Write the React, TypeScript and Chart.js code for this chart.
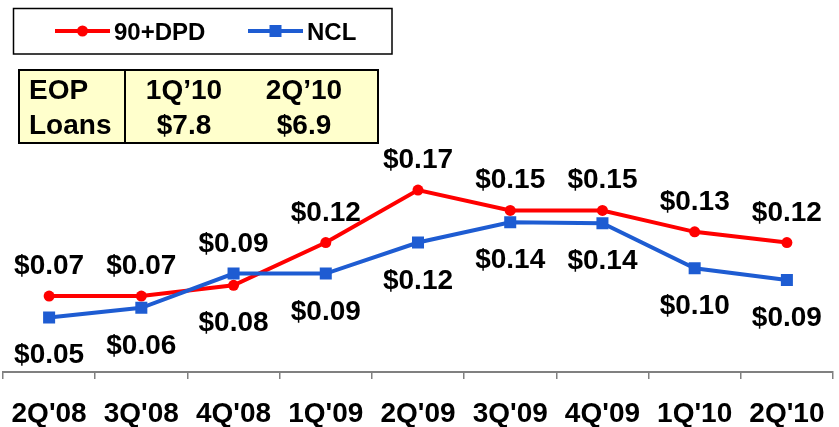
import React, { useEffect, useRef } from "react";
import { Chart, registerables } from "chart.js";

Chart.register(...registerables);

const categories = ["2Q'08", "3Q'08", "4Q'08", "1Q'09", "2Q'09", "3Q'09", "4Q'09", "1Q'10", "2Q'10"];
const dpdValues = [0.071, 0.071, 0.081, 0.121, 0.17, 0.151, 0.151, 0.131, 0.121];
const nclValues = [0.051, 0.06, 0.092, 0.092, 0.121, 0.14, 0.139, 0.097, 0.086];
const dpdLabelSide = ["above", "above", "below", "above", "above", "above", "above", "above", "above"];
const nclLabelSide = ["below", "below", "above", "below", "below", "below", "below", "below", "below"];
const seriesNames = ["90+DPD", "NCL"];
const tableHeader = ["EOP", "1Q\u201910", "2Q\u201910"];
const tableRow = ["Loans", "$7.8", "$6.9"];

const FONT = '"Liberation Sans", Arial, Helvetica, sans-serif';
const RED = "#FF0000";
const BLUE = "#1E5CD2";

const dataLabelPlugin = {
  id: "dataLabels",
  afterDatasetsDraw(chart: any) {
    const ctx = chart.ctx;
    ctx.save();
    ctx.font = `bold 28px ${FONT}`;
    ctx.fillStyle = "#000";
    ctx.textAlign = "center";
    ctx.textBaseline = "alphabetic";
    chart.data.datasets.forEach((ds: any, i: number) => {
      const meta = chart.getDatasetMeta(i);
      const sides: string[] = ds.labelSide;
      meta.data.forEach((pt: any, j: number) => {
        const v = ds.data[j] as number;
        const text = "$" + v.toFixed(2);
        const cy = pt.y + (sides[j] === "above" ? -32 : 36);
        ctx.fillText(text, pt.x, cy + 10);
      });
    });
    ctx.restore();
  },
};

const legendTablePlugin = {
  id: "legendTable",
  afterDraw(chart: any) {
    const ctx = chart.ctx;
    const dsets = chart.data.datasets;
    ctx.save();
    // Legend box
    ctx.strokeStyle = "#000";
    ctx.lineWidth = 1.5;
    ctx.strokeRect(13.5, 8.5, 378.5, 45.5);
    const ly = 31;
    const items = [
      { x0: 55, x1: 110, tx: 114, ds: dsets[0] },
      { x0: 248, x1: 303, tx: 307, ds: dsets[1] },
    ];
    items.forEach((it) => {
      ctx.strokeStyle = it.ds.borderColor;
      ctx.lineWidth = 4;
      ctx.beginPath();
      ctx.moveTo(it.x0, ly);
      ctx.lineTo(it.x1, ly);
      ctx.stroke();
      ctx.fillStyle = it.ds.borderColor;
      const cx = (it.x0 + it.x1) / 2;
      if (it.ds.pointStyle === "rect") {
        ctx.fillRect(cx - 6, ly - 6, 12, 12);
      } else {
        ctx.beginPath();
        ctx.arc(cx, ly, 5.5, 0, Math.PI * 2);
        ctx.fill();
      }
      ctx.fillStyle = "#000";
      ctx.font = `bold 24px ${FONT}`;
      ctx.textAlign = "left";
      ctx.textBaseline = "alphabetic";
      ctx.fillText(it.ds.label, it.tx, ly + 8.5);
    });

    // Table
    const tx0 = 19, ty0 = 70, tx1 = 378, ty1 = 143, divX = 125;
    ctx.fillStyle = "#FFFFCC";
    ctx.fillRect(tx0, ty0, tx1 - tx0, ty1 - ty0);
    ctx.strokeStyle = "#000";
    ctx.lineWidth = 2;
    ctx.strokeRect(tx0, ty0, tx1 - tx0, ty1 - ty0);
    ctx.beginPath();
    ctx.moveTo(divX, ty0);
    ctx.lineTo(divX, ty1);
    ctx.stroke();
    ctx.fillStyle = "#000";
    ctx.font = `bold 28px ${FONT}`;
    ctx.textBaseline = "alphabetic";
    const row1 = 89 + 10;
    const row2 = 124 + 10;
    const colX = [29, 184, 304];
    [tableHeader, tableRow].forEach((row, r) => {
      const y = r === 0 ? row1 : row2;
      row.forEach((t, c) => {
        ctx.textAlign = c === 0 ? "left" : "center";
        ctx.fillText(t, colX[c], y);
      });
    });
    ctx.restore();
  },
};

export default function App() {
  const ref = useRef<HTMLCanvasElement | null>(null);

  useEffect(() => {
    if (!ref.current) return;
    const chart = new Chart(ref.current, {
      type: "line",
      data: {
        labels: categories,
        datasets: [
          {
            label: seriesNames[0],
            data: dpdValues,
            borderColor: RED,
            backgroundColor: RED,
            pointBackgroundColor: RED,
            pointBorderColor: RED,
            borderWidth: 4,
            pointStyle: "circle",
            pointRadius: 5.5,
            pointBorderWidth: 0,
            order: 2,
            labelSide: dpdLabelSide,
          } as any,
          {
            label: seriesNames[1],
            data: nclValues,
            borderColor: BLUE,
            backgroundColor: BLUE,
            pointBackgroundColor: BLUE,
            pointBorderColor: BLUE,
            borderWidth: 4,
            pointStyle: "rect",
            pointRadius: 8.5,
            pointBorderWidth: 0,
            order: 1,
            labelSide: nclLabelSide,
          } as any,
        ],
      },
      options: {
        responsive: false,
        animation: false,
        devicePixelRatio: 1,
        layout: { autoPadding: false, padding: { top: 104.5, left: 3, right: 6, bottom: 0 } },
        plugins: {
          legend: { display: false },
          tooltip: { enabled: false },
        },
        scales: {
          x: {
            offset: true,
            grid: {
              offset: true,
              drawOnChartArea: false,
              drawTicks: true,
              tickLength: 7,
              color: "#808080",
              lineWidth: 1.5,
            },
            border: { display: true, color: "#808080", width: 2 },
            ticks: {
              font: { family: FONT, size: 28, weight: "bold", lineHeight: 2.55 },
              color: "#000",
              padding: 0,
              maxRotation: 0,
              autoSkip: false,
            },
            afterFit: (s: any) => {
              s.height = 55;
              s.paddingLeft = 0;
              s.paddingRight = 0;
            },
          },
          y: {
            display: false,
            min: 0,
            max: 0.25,
          },
        },
      },
      plugins: [dataLabelPlugin, legendTablePlugin],
    } as any);
    return () => chart.destroy();
  }, []);

  return (
    <div style={{ position: "fixed", left: 0, top: 0, width: 839, height: 427, background: "#fff" }}>
      <canvas ref={ref} width={839} height={427} style={{ width: 839, height: 427, display: "block" }} />
    </div>
  );
}
